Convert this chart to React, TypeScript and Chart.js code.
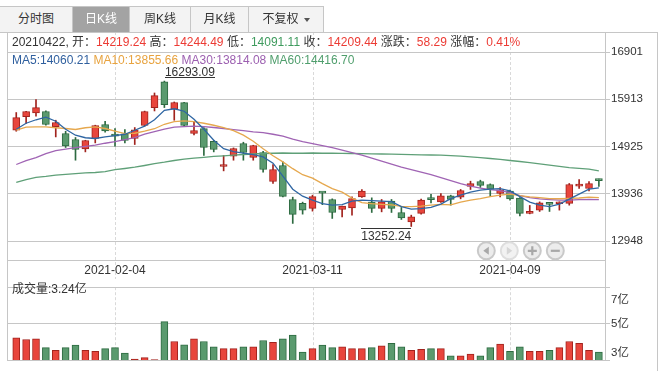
import React, { useEffect, useRef } from 'react';
import { Chart, registerables } from 'chart.js';

Chart.register(...registerables);

const dates = [
  '2021-01-21', '2021-01-22', '2021-01-25', '2021-01-26', '2021-01-27', '2021-01-28', '2021-01-29',
  '2021-02-01', '2021-02-02', '2021-02-03', '2021-02-04', '2021-02-05', '2021-02-08', '2021-02-09',
  '2021-02-10', '2021-02-18', '2021-02-19', '2021-02-22', '2021-02-23', '2021-02-24', '2021-02-25',
  '2021-02-26', '2021-03-01', '2021-03-02', '2021-03-03', '2021-03-04', '2021-03-05', '2021-03-08',
  '2021-03-09', '2021-03-10', '2021-03-11', '2021-03-12', '2021-03-15', '2021-03-16', '2021-03-17',
  '2021-03-18', '2021-03-19', '2021-03-22', '2021-03-23', '2021-03-24', '2021-03-25', '2021-03-26',
  '2021-03-29', '2021-03-30', '2021-03-31', '2021-04-01', '2021-04-02', '2021-04-06', '2021-04-07',
  '2021-04-08', '2021-04-09', '2021-04-12', '2021-04-13', '2021-04-14', '2021-04-15', '2021-04-16',
  '2021-04-19', '2021-04-20', '2021-04-21', '2021-04-22',
];

const openPrices = [
  15265, 15551, 15626, 15656, 15342, 15196, 15071, 14874, 15092, 15384,
  15150, 15188, 15092, 15363, 15739, 16275, 15704, 15843, 15196, 15300,
  15035, 14507, 14722, 14987, 14695, 14799, 14193, 14527, 13817, 13734,
  13629, 13957, 13817, 13608, 13642, 13871, 13761, 13629, 13782, 13545,
  13349, 13525, 13819, 13767, 13892, 13865, 14089, 14193, 14130, 13942,
  13990, 13844, 13525, 13594, 13723, 13727, 13734, 14095, 14047, 14219.24,
];
const highPrices = [
  15635, 15662, 15906, 15670, 15474, 15244, 15113, 15055, 15370, 15453,
  15300, 15280, 15321, 15665, 16044, 16293.09, 15856, 15850, 15438, 15321,
  15056, 14736, 14895, 15014, 14951, 14826, 14548, 14603, 13865, 13761,
  13907, 13963, 13830, 13680, 13871, 14026, 13851, 13817, 13817, 13650,
  13489, 13823, 13922, 13942, 13907, 14026, 14199, 14220, 14143, 14068,
  14011, 13859, 13692, 13767, 13729, 13767, 14151, 14235, 14193, 14244.49,
];
const lowPrices = [
  15244, 15405, 15557, 15370, 15125, 14904, 14638, 14812, 15000, 15223,
  14931, 15000, 14966, 15349, 15668, 15739, 15474, 15355, 15167, 14736,
  14812, 14415, 14638, 14638, 14638, 14387, 14151, 13871, 13316, 13510,
  13573, 13708, 13420, 13454, 13489, 13859, 13545, 13558, 13545, 13399,
  13252.24, 13510, 13746, 13754, 13698, 13830, 14026, 14068, 13880, 13871,
  13802, 13474, 13516, 13566, 13566, 13594, 13698, 14047, 13997, 14091.11,
];
const closePrices = [
  15530, 15656, 15739, 15384, 15426, 14937, 14862, 15050, 15363, 15250,
  15142, 15050, 15271, 15656, 15990, 15802, 15844, 15363, 15259, 14904,
  14862, 14527, 14883, 14799, 14945, 14444, 14444, 13880, 13504, 13594,
  13876, 13949, 13545, 13677, 13838, 13990, 13629, 13767, 13629, 13433,
  13454, 13802, 13813, 13892, 13817, 14005, 14151, 14110, 14032, 14018,
  13830, 13525, 13552, 13746, 13713, 13736, 14130, 14130, 14151.15, 14209.44,
];

const ma5 = [
  15286, 15411, 15484, 15537, 15453, 15286, 15161, 15108, 15092, 15125,
  15154, 15181, 15265, 15349, 15485, 15683, 15714, 15662, 15495, 15286,
  15056, 14878, 14816, 14784, 14753, 14707, 14576, 14304, 14032, 13886,
  13802, 13729, 13698, 13708, 13782, 13802, 13792, 13782, 13771, 13667,
  13614, 13625, 13650, 13719, 13834, 13907, 13970, 14011, 14032, 14043,
  13997, 13876, 13761, 13698, 13667, 13719, 13823, 13928, 14032, 14060.21,
];
const ma10 = [
  15265, 15328, 15334, 15334, 15317, 15301, 15280, 15317, 15334, 15301,
  15244, 15192, 15202, 15244, 15296, 15390, 15443, 15459, 15447, 15411,
  15369, 15317, 15255, 15161, 15035, 14878, 14732, 14603, 14461, 14335,
  14262, 14147, 14043, 13970, 13844, 13750, 13729, 13713, 13702, 13671,
  13667, 13677, 13698, 13715, 13704, 13761, 13802, 13834, 13876, 13907,
  13928, 13896, 13871, 13855, 13834, 13832, 13838, 13848, 13865, 13855.66,
];
const ma30 = [
  14548, 14628, 14690, 14774, 14837, 14868, 14899, 14927, 14952, 14993,
  15025, 15067, 15108, 15181, 15234, 15286, 15328, 15342, 15349, 15342,
  15322, 15301, 15276, 15255, 15230, 15213, 15181, 15140, 15077, 15025,
  14983, 14941, 14899, 14847, 14795, 14743, 14680, 14617, 14555, 14492,
  14440, 14387, 14335, 14273, 14210, 14147, 14095, 14053, 14022, 14001,
  13959, 13896, 13855, 13828, 13813, 13802, 13802, 13813, 13819, 13814.08,
];
const ma60 = [
  14172, 14231, 14277, 14298, 14325, 14342, 14358, 14371, 14381, 14398,
  14440, 14465, 14492, 14527, 14565, 14596, 14632, 14659, 14680, 14697,
  14718, 14730, 14743, 14757, 14768, 14778, 14784, 14789, 14784, 14784,
  14789, 14784, 14784, 14780, 14778, 14776, 14772, 14768, 14764, 14759,
  14755, 14751, 14747, 14743, 14732, 14722, 14709, 14690, 14674, 14655,
  14632, 14611, 14586, 14561, 14534, 14509, 14484, 14467, 14450, 14416.70,
];

// volume in 亿
const volumes = [
  4.13, 4.02, 4.07, 3.52, 3.35, 3.52, 3.68, 3.35, 3.30, 3.46,
  3.52, 3.19, 2.82, 2.91, 2.79, 5.12, 3.90, 3.70, 4.07, 3.90,
  3.57, 3.46, 3.46, 3.57, 3.57, 3.96, 3.85, 4.07, 4.29, 3.24,
  3.46, 3.68, 3.52, 3.57, 3.46, 3.46, 3.52, 3.63, 3.79, 3.57,
  3.35, 3.41, 3.46, 3.46, 3.02, 3.02, 3.13, 3.02, 3.52, 3.74,
  3.30, 3.57, 3.30, 3.30, 3.35, 3.52, 3.90, 3.79, 3.35, 3.24,
];

const priceTicks = [12948, 13936.25, 14924.5, 15912.75, 16901];
const dateTicks = ['2021-02-04', '2021-03-11', '2021-04-09'];
const volumeTickValues = [3, 5, 7];
const volumeTickLabels = ['3亿', '5亿', '7亿'];
const tabs = ['分时图', '日K线', '周K线', '月K线', '不复权'];

const PRICE_MIN = 12551;
const PRICE_MAX = 16901;
const VOL_MIN = 2.76;
const VOL_MAX = 7.24;
const X_MIN = -0.937;
const X_MAX = 59.62;

const FONT = "'Liberation Sans', Arial, 'Noto Sans CJK SC', sans-serif";
const GRID = '#c6c6c6';
const UP = '#e8453c';
const UP_EDGE = '#a1231d';
const DOWN = '#5a9a6e';
const DOWN_EDGE = '#2d6a40';
const RED_TEXT = '#ec3b34';
const GREEN_TEXT = '#3f9b5e';
const MA_COLORS = ['#2f66a3', '#e6a84e', '#a064b4', '#5fa078'];
const MA_TEXT = ['#2f5f9e', '#e8a33f', '#9c5fb0', '#4f9e6c'];

function dashPlugin(fromTop: number | null) {
  return {
    id: 'dashV',
    beforeDraw(chart: any) {
      const { ctx } = chart;
      const xs = chart.scales.x;
      const y0 = fromTop === null ? chart.chartArea.top : fromTop;
      const y1 = fromTop === null ? chart.chartArea.bottom : chart.height;
      ctx.save();
      ctx.strokeStyle = '#d9d9d9';
      ctx.lineWidth = 1;
      ctx.setLineDash([3, 2]);
      dateTicks.forEach((d) => {
        const px = Math.round(xs.getPixelForValue(dates.indexOf(d))) + 0.5;
        ctx.beginPath();
        ctx.moveTo(px, y0);
        ctx.lineTo(px, y1);
        ctx.stroke();
      });
      ctx.restore();
    },
  };
}

const extremesPlugin = {
  id: 'extremes',
  afterDatasetsDraw(chart: any) {
    const { ctx } = chart;
    const xs = chart.scales.x;
    const ys = chart.scales.y;
    const hiIdx = highPrices.indexOf(Math.max(...highPrices));
    const loIdx = lowPrices.indexOf(Math.min(...lowPrices));
    ctx.save();
    ctx.font = `12px ${FONT}`;
    ctx.fillStyle = '#333';
    ctx.textBaseline = 'alphabetic';
    // high
    const hx = xs.getPixelForValue(hiIdx) + 0.5;
    const hy = ys.getPixelForValue(highPrices[hiIdx]);
    const ht = highPrices[hiIdx].toFixed(2);
    const hw = ctx.measureText(ht).width;
    ctx.textAlign = 'left';
    ctx.fillText(ht, hx, hy - 5);
    ctx.fillRect(Math.round(hx), Math.round(hy - 4), Math.round(hw), 1);
    // low
    const lx = xs.getPixelForValue(loIdx);
    const ly = ys.getPixelForValue(lowPrices[loIdx]);
    const lt = lowPrices[loIdx].toFixed(2);
    const lw = ctx.measureText(lt).width;
    ctx.textAlign = 'right';
    ctx.fillText(lt, lx, ly + 14);
    ctx.fillRect(Math.round(lx - lw), Math.round(ly + 2), Math.round(lw), 1);
    ctx.restore();
  },
};

const volumeLabelPlugin = {
  id: 'volLabels',
  afterDraw(chart: any) {
    const { ctx } = chart;
    const ys = chart.scales.y;
    const { top, bottom } = chart.chartArea;
    ctx.save();
    ctx.font = `11.5px ${FONT}`;
    ctx.fillStyle = '#333';
    ctx.textAlign = 'left';
    ctx.textBaseline = 'middle';
    volumeTickValues.forEach((v, k) => {
      let py = ys.getPixelForValue(v);
      py = Math.min(Math.max(py, top + 13), bottom - 7);
      ctx.fillText(volumeTickLabels[k], ys.left + 6, py);
    });
    ctx.restore();
  },
};

function App() {
  const priceRef = useRef<HTMLCanvasElement>(null);
  const volRef = useRef<HTMLCanvasElement>(null);

  useEffect(() => {
    const isUp = closePrices.map((c, i) => c >= openPrices[i]);
    const fills = isUp.map((u) => (u ? UP : DOWN));
    const edges = isUp.map((u) => (u ? UP_EDGE : DOWN_EDGE));
    const dateIdx = dateTicks.map((d) => dates.indexOf(d));

    const maSeries = [ma5, ma10, ma30, ma60];
    const maNames = ['MA5', 'MA10', 'MA30', 'MA60'];

    const price = new Chart(priceRef.current as HTMLCanvasElement, {
      type: 'bar',
      data: {
        datasets: [
          ...maSeries.map((s, k) => ({
            type: 'line' as const,
            label: maNames[k],
            data: s.map((v, i) => ({ x: i, y: v })),
            borderColor: MA_COLORS[k],
            borderWidth: 1.3,
            pointRadius: 0,
            tension: 0,
            fill: false,
            order: 0,
          })),
          {
            type: 'bar' as const,
            label: 'body',
            data: openPrices.map((o, i) => ({ x: i, y: [o, closePrices[i]] })),
            backgroundColor: fills,
            borderColor: edges,
            borderWidth: 1,
            borderSkipped: false,
            barThickness: 7,
            maxBarThickness: 7,
            minBarLength: 2,
            grouped: false,
            order: 1,
          },
          {
            type: 'bar' as const,
            label: 'wick',
            data: lowPrices.map((l, i) => ({ x: i, y: [l, highPrices[i]] })),
            backgroundColor: edges,
            borderWidth: 0,
            barThickness: 1,
            maxBarThickness: 1,
            grouped: false,
            order: 2,
          },
        ] as any,
      },
      options: {
        animation: false,
        responsive: false,
        maintainAspectRatio: false,
        layout: { padding: { left: 7, top: 52, right: 0, bottom: 0 } },
        plugins: { legend: { display: false }, tooltip: { enabled: false } },
        scales: {
          x: {
            type: 'linear',
            min: X_MIN,
            max: X_MAX,
            offset: false,
            grid: { display: false, drawTicks: false },
            border: { display: true, color: GRID },
            ticks: {
              autoSkip: false,
              maxRotation: 0,
              padding: 3,
              color: '#333',
              font: { family: FONT, size: 12 },
              callback: (v: any) => dates[Math.round(Number(v))] ?? '',
            },
            afterBuildTicks: (s: any) => {
              s.ticks = dateIdx.map((v) => ({ value: v }));
            },
            afterFit: (s: any) => {
              s.height = 19;
            },
          },
          y: {
            type: 'linear',
            position: 'right',
            min: PRICE_MIN,
            max: PRICE_MAX,
            grid: { color: GRID, tickLength: 5, drawTicks: true },
            border: { display: false },
            ticks: {
              padding: 1,
              color: '#333',
              font: { family: FONT, size: 11.5 },
              callback: (v: any) => String(Math.round(Number(v))),
            },
            afterBuildTicks: (s: any) => {
              s.ticks = priceTicks.map((v) => ({ value: v }));
            },
            afterFit: (s: any) => {
              s.width = 59;
            },
          },
        },
      } as any,
      plugins: [dashPlugin(32), extremesPlugin],
    });

    const vol = new Chart(volRef.current as HTMLCanvasElement, {
      type: 'bar',
      data: {
        datasets: [
          {
            label: 'volume',
            data: volumes.map((v, i) => ({ x: i, y: v })),
            backgroundColor: fills,
            borderColor: edges,
            borderWidth: 1,
            borderSkipped: false,
            barThickness: 7,
            maxBarThickness: 7,
            grouped: false,
          },
        ] as any,
      },
      options: {
        animation: false,
        responsive: false,
        maintainAspectRatio: false,
        layout: { padding: { left: 7, top: 0, right: 0, bottom: 11 } },
        plugins: { legend: { display: false }, tooltip: { enabled: false } },
        scales: {
          x: {
            type: 'linear',
            min: X_MIN,
            max: X_MAX,
            offset: false,
            grid: { display: false, drawTicks: false },
            border: { display: false },
            ticks: { display: false },
            afterFit: (s: any) => {
              s.height = 0;
            },
          },
          y: {
            type: 'linear',
            position: 'right',
            min: VOL_MIN,
            max: VOL_MAX,
            grid: { color: GRID, tickLength: 5, drawTicks: true },
            border: { display: false },
            ticks: { display: true, padding: 1, callback: () => '' },
            afterBuildTicks: (s: any) => {
              s.ticks = [VOL_MIN, 5, VOL_MAX].map((v) => ({ value: v }));
            },
            afterFit: (s: any) => {
              s.width = 59;
            },
          },
        },
      } as any,
      plugins: [dashPlugin(null), volumeLabelPlugin],
    });

    return () => {
      price.destroy();
      vol.destroy();
    };
  }, []);

  const last = dates.length - 1;
  const change = 58.29;
  const changePct = '0.41%';
  const dateStr = dates[last].replace(/-/g, '');

  const hLine = (left: number, top: number, width: number): React.CSSProperties => ({
    position: 'absolute', left, top, width, height: 1, background: GRID,
  });
  const vLine = (left: number, top: number, height: number): React.CSSProperties => ({
    position: 'absolute', left, top, width: 1, height, background: GRID,
  });

  const tabLefts = [0, 72, 129, 190, 248, 324];

  const btnCx = [12.3, 35.3, 58.3, 81.3];

  return (
    <div style={{ position: 'absolute', left: 0, top: 0, width: 664, height: 371, background: '#fff', fontFamily: FONT, overflow: 'hidden' }}>
      <canvas ref={priceRef} width={664} height={279} style={{ position: 'absolute', left: 0, top: 0, width: 664, height: 279 }} />
      <canvas ref={volRef} width={664} height={92} style={{ position: 'absolute', left: 0, top: 279, width: 664, height: 92 }} />

      {/* frame */}
      <div style={hLine(0, 32, 657)} />
      <div style={vLine(7, 32, 329)} />
      <div style={vLine(605, 32, 329)} />
      <div style={vLine(657, 32, 339)} />

      {/* tabs */}
      {tabs.map((t, k) => {
        const sel = k === 1;
        return (
          <div key={t} style={{
            position: 'absolute', left: tabLefts[k], top: 6, width: tabLefts[k + 1] - tabLefts[k], height: 26,
            boxSizing: 'border-box', borderTop: `1px solid ${GRID}`, borderLeft: k === 0 ? 'none' : `1px solid ${GRID}`,
            borderRight: k === tabs.length - 1 ? `1px solid ${GRID}` : 'none',
            background: sel ? '#a3a3a3' : '#f3f3f3', color: sel ? '#fff' : '#333',
            fontSize: 12, lineHeight: '25px', textAlign: 'center', whiteSpace: 'nowrap',
          }}>
            {t}
            {k === tabs.length - 1 && (
              <span style={{ display: 'inline-block', width: 0, height: 0, marginLeft: 5, verticalAlign: 'middle', borderLeft: '3.5px solid transparent', borderRight: '3.5px solid transparent', borderTop: '4px solid #555' }} />
            )}
          </div>
        );
      })}

      {/* info row */}
      <div style={{ position: 'absolute', left: 12, top: 33, height: 19, lineHeight: '19px', fontSize: 12, color: '#333', whiteSpace: 'nowrap' }}>
        {dateStr}, 开：<span style={{ color: RED_TEXT }}>{openPrices[last].toFixed(2)}</span>{' '}
        高：<span style={{ color: RED_TEXT }}>{highPrices[last].toFixed(2)}</span>{' '}
        低：<span style={{ color: GREEN_TEXT }}>{lowPrices[last].toFixed(2)}</span>{' '}
        收：<span style={{ color: RED_TEXT }}>{closePrices[last].toFixed(2)}</span>{' '}
        涨跌：<span style={{ color: RED_TEXT }}>{change.toFixed(2)}</span>{' '}
        涨幅：<span style={{ color: RED_TEXT }}>{changePct}</span>
      </div>
      <div style={{ position: 'absolute', left: 12, top: 52, height: 17, lineHeight: '17px', fontSize: 12, whiteSpace: 'nowrap' }}>
        <span style={{ color: MA_TEXT[0] }}>MA5:{ma5[last].toFixed(2)}</span>{' '}
        <span style={{ color: MA_TEXT[1] }}>MA10:{ma10[last].toFixed(2)}</span>{' '}
        <span style={{ color: MA_TEXT[2] }}>MA30:{ma30[last].toFixed(2)}</span>{' '}
        <span style={{ color: MA_TEXT[3] }}>MA60:{ma60[last].toFixed(2)}</span>
      </div>

      {/* volume label */}
      <div style={{ position: 'absolute', left: 12, top: 281, height: 16, lineHeight: '16px', fontSize: 12, color: '#333', whiteSpace: 'nowrap' }}>
        成交量:{volumes[last].toFixed(2)}亿
      </div>

      {/* navigation buttons */}
      <svg width={94} height={24} style={{ position: 'absolute', left: 474, top: 239 }}>
        {btnCx.map((cx, k) => (
          <circle key={k} cx={cx} cy={11.8} r={8.5} fill={k === 1 ? '#f2f2f2' : '#ececec'} stroke={k === 1 ? '#dedede' : '#c9c9c9'} strokeWidth={2} />
        ))}
        <polygon points={`${btnCx[0] + 2.5},7.8 ${btnCx[0] + 2.5},15.8 ${btnCx[0] - 3},11.8`} fill="#a8a8a8" />
        <polygon points={`${btnCx[1] - 2.5},7.8 ${btnCx[1] - 2.5},15.8 ${btnCx[1] + 3},11.8`} fill="#d6d6d6" />
        <path d={`M${btnCx[2] - 4.5} 11.8 H${btnCx[2] + 4.5} M${btnCx[2]} 7.3 V16.3`} stroke="#a8a8a8" strokeWidth={2.2} />
        <path d={`M${btnCx[3] - 4.5} 11.8 H${btnCx[3] + 4.5}`} stroke="#a8a8a8" strokeWidth={2.2} />
      </svg>
    </div>
  );
}

export default App;
